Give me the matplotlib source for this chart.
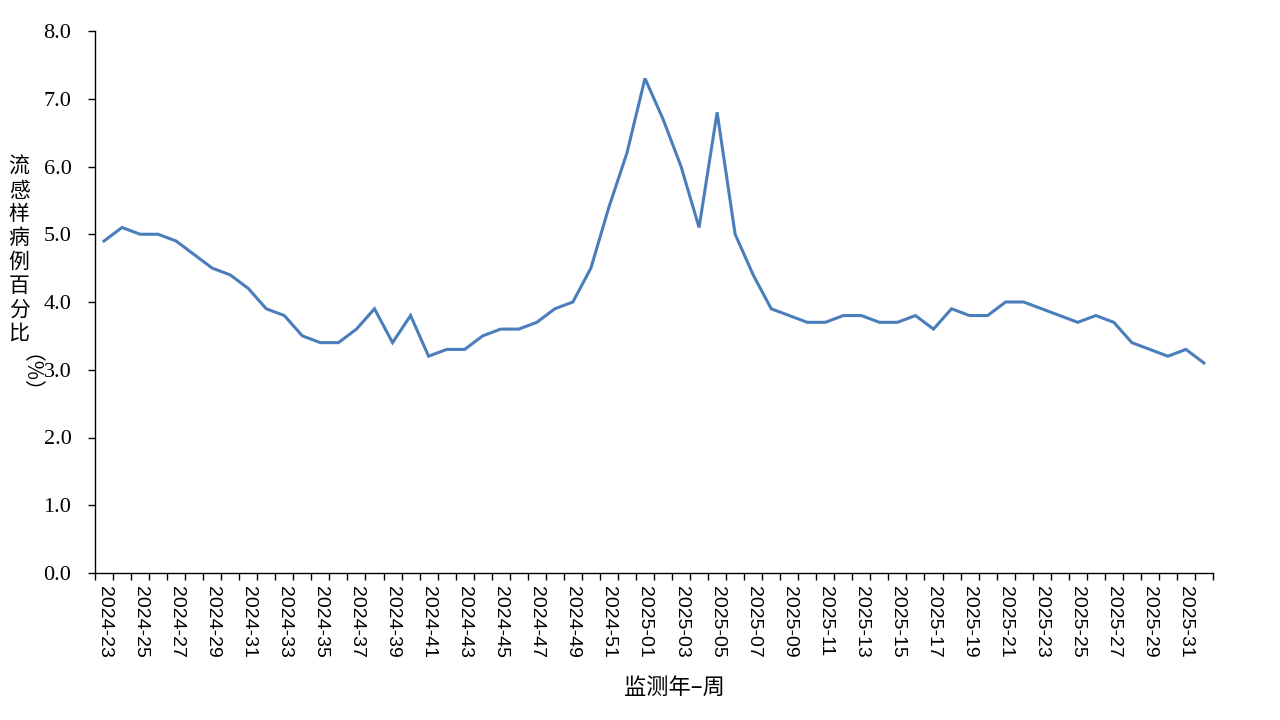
import numpy as np
import matplotlib
matplotlib.use('Agg')
import matplotlib.pyplot as plt
from matplotlib.ticker import MultipleLocator, FixedLocator

# Data: ILI percentage by surveillance week
weeks = [f'2024-{w:02d}' for w in range(23, 53)] + [f'2025-{w:02d}' for w in range(1, 33)]
ili_pct = [4.9, 5.1, 5.0, 5.0, 4.9, 4.7, 4.5, 4.4, 4.2, 3.9,
           3.8, 3.5, 3.4, 3.4, 3.6, 3.9, 3.4, 3.8, 3.2, 3.3,
           3.3, 3.5, 3.6, 3.6, 3.7, 3.9, 4.0, 4.5, 5.4, 6.2,
           7.3, 6.7, 6.0, 5.1, 6.8, 5.0, 4.4, 3.9, 3.8, 3.7,
           3.7, 3.8, 3.8, 3.7, 3.7, 3.8, 3.6, 3.9, 3.8, 3.8,
           4.0, 4.0, 3.9, 3.8, 3.7, 3.8, 3.7, 3.4, 3.3, 3.2,
           3.3, 3.1]

y_label = '流感样病例百分比'
x_label = '监测年–周'

CJK = ['Noto Sans CJK SC', 'DejaVu Sans']
LINE_COLOR = '#4A7EBB'

fig = plt.figure(figsize=(12.8, 7.2), dpi=100)
ax = fig.add_axes([95 / 1280, 1 - 573 / 720, (1213 - 95) / 1280, (573 - 31) / 720])

x = np.arange(len(weeks))
ax.plot(x, ili_pct, color=LINE_COLOR, linewidth=2.2, solid_joinstyle='miter')

# y axis
ax.set_ylim(0, 8)
ax.yaxis.set_major_locator(MultipleLocator(1))
ax.set_yticklabels([f'{v:.1f}' for v in ax.get_yticks()],
                   family='Liberation Serif', fontsize=16)
ax.tick_params(axis='y', direction='out', length=5, width=1, pad=12)

# x axis: labels every other week, tick marks at every category boundary
ax.set_xlim(-0.5, len(weeks) - 0.5)
ax.set_xticks(x[::2])
ax.set_xticklabels(weeks[::2], rotation=-90, family='Liberation Sans', fontsize=14)
ax.xaxis.set_minor_locator(FixedLocator(np.arange(len(weeks) + 1) - 0.5))
ax.tick_params(axis='x', which='major', length=0, pad=9)
ax.tick_params(axis='x', which='minor', direction='out', length=5, width=1)

for side in ['top', 'right']:
    ax.spines[side].set_visible(False)
for side in ['left', 'bottom']:
    ax.spines[side].set_linewidth(1)
    ax.spines[side].set_color('black')

# axis titles (stacked vertical text)
fig.text(19 / 1280, 1 - 250 / 720, '\n'.join(y_label), family=CJK, fontsize=15,
         ha='center', va='center', linespacing=1.1)
fig.text(19 / 1280, 1 - 354 / 720, '（%）', family=CJK, fontsize=15,
         ha='center', va='top', rotation=-90)
fig.text(674 / 1280, 1 - 687 / 720, x_label, family=CJK, fontsize=16,
         ha='center', va='center')

fig.savefig('out.png', dpi=100)
